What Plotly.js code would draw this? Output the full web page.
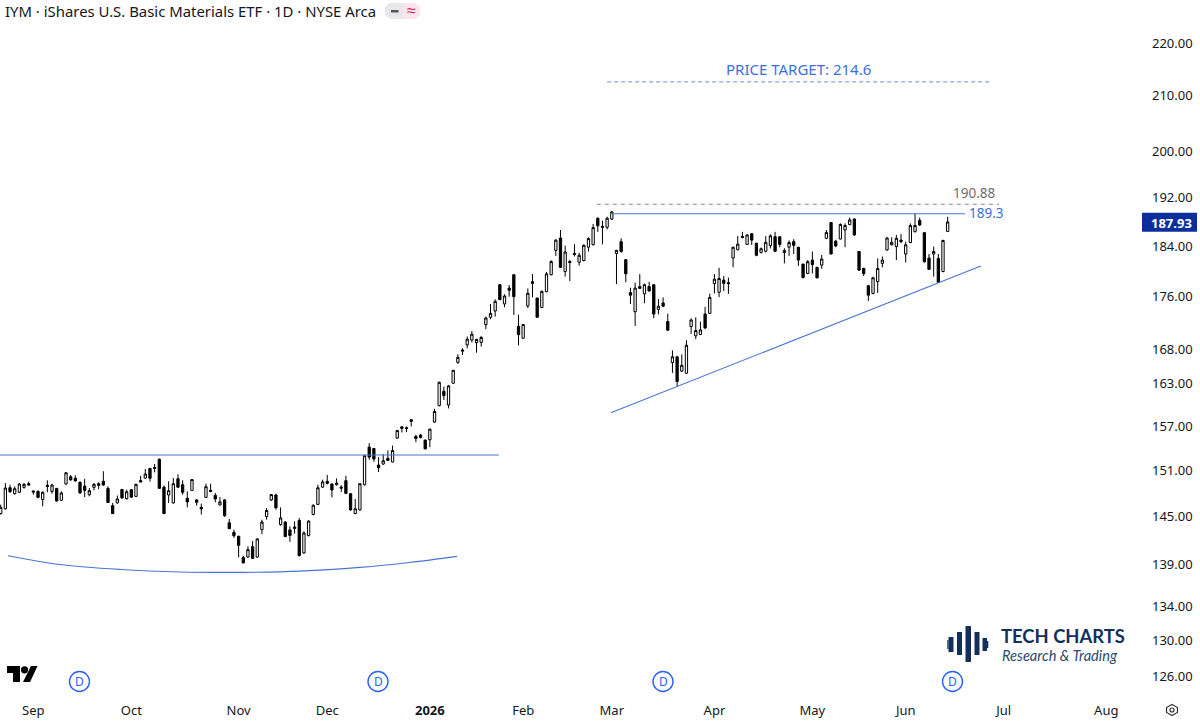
<!DOCTYPE html>
<html>
<head>
<meta charset="utf-8">
<script src="https://cdn.plot.ly/plotly-3.0.1.min.js"></script>
<style>html,body{margin:0;padding:0;background:#fff}#chart{width:1200px;height:723px}</style>
</head>
<body>
<div id="chart"></div>
<script>
const open = [
145.38,145.98,148.73,147.95,148.13,148.77,149.26,148.3,148.25,147.18,
149.03,148.25,148.64,147.09,149.22,150.17,149.97,149.44,148.94,147.82,
148.77,149.03,149.57,148.64,146.4,146.75,148.5,147.3,148.47,147.6,
149.66,150.0,151.28,151.42,152.5,148.8,147.78,146.75,149.9,149.12,
147.35,148.38,147.14,146.18,147.47,148.38,147.73,146.5,147.14,144.2,
143.0,142.5,139.88,139.92,141.2,139.92,143.34,145.0,147.13,147.78,
143.97,144.3,143.3,143.67,144.5,140.42,142.58,145.26,146.56,148.8,
149.56,149.2,149.12,148.81,149.65,147.95,145.38,145.85,149.12,154.14,
153.96,151.73,151.86,152.62,152.13,155.37,156.92,156.8,157.9,155.6,
155.78,155.1,155.14,157.57,159.87,161.91,159.96,163.05,166.09,167.9,
168.65,169.37,168.98,169.03,171.69,172.8,173.76,177.83,174.85,177.3,
179.4,171.44,169.65,174.54,178.3,175.76,174.3,176.75,179.4,183.3,
185.3,179.9,181.5,182.8,181.38,181.65,183.8,184.2,188.55,187.2,
187.05,188.4,182.8,184.7,181.8,176.6,173.65,177.25,176.4,177.55,
177.83,174.0,175.0,172.15,166.05,166.9,164.8,164.5,171.4,170.0,
170.2,173.3,173.4,178.0,176.65,178.55,178.15,182.05,183.4,185.55,
184.25,186.0,184.45,182.95,183.15,184.05,185.5,185.5,182.95,183.8,
184.7,183.8,181.1,179.6,181.73,180.56,180.93,185.25,187.83,184.78,
185.13,186.6,187.5,188.43,183.1,180.4,177.67,176.47,178.3,181.2,
183.35,184.2,183.9,184.95,182.7,184.55,186.33,188.2,186.17,182.05,
182.7,182.0,179.9,186.37];
const high = [
146.53,149.35,149.12,148.9,149.35,149.35,149.53,148.38,148.38,148.25,
149.7,149.26,148.69,148.25,150.8,150.4,150.35,149.57,149.9,148.69,
149.35,149.44,150.9,148.9,146.75,147.7,148.55,148.47,148.55,149.26,
150.3,151.2,151.33,151.86,152.6,149.0,149.57,150.0,150.5,149.7,
148.25,149.8,147.26,146.66,149.26,149.26,148.04,147.5,147.26,144.7,
143.34,142.58,140.08,141.25,141.9,142.2,144.6,146.1,147.7,147.95,
146.17,144.39,143.76,144.39,144.8,143.13,144.5,146.55,149.12,149.78,
150.4,149.34,149.96,149.07,150.3,147.95,147.27,149.34,153.1,154.68,
154.0,152.8,153.2,153.68,154.36,156.5,156.97,156.97,158.0,155.82,
155.95,155.14,156.65,159.43,163.29,162.58,162.81,164.93,167.26,168.15,
169.9,170.73,169.56,170.0,172.9,174.85,175.55,177.83,176.33,177.78,
179.4,173.2,171.8,177.25,179.5,175.76,176.9,179.85,181.7,185.1,
186.6,184.05,181.77,184.3,182.9,184.26,185.4,187.6,188.7,188.15,
188.8,189.75,183.35,185.25,181.85,177.35,178.15,179.5,178.0,178.3,
177.83,175.6,175.85,173.35,167.85,166.95,167.25,169.35,172.65,172.8,
172.15,174.4,176.45,179.5,180.5,179.2,178.95,183.85,185.65,186.3,
185.9,186.05,184.5,183.75,185.6,185.9,186.3,185.5,183.63,184.9,
185.1,183.8,181.1,181.73,183.1,180.67,182.55,186.6,187.83,185.0,
187.7,187.7,188.65,188.5,183.1,180.5,177.8,179.08,182.0,182.3,
185.4,185.4,185.8,185.95,184.7,187.7,189.36,188.65,186.2,182.7,
183.9,182.7,185.0,188.8];
const low = [
145.25,145.9,148.04,147.82,148.04,148.6,149.0,147.82,147.35,146.3,
148.13,147.95,146.96,147.0,149.12,149.67,149.53,147.95,147.5,147.6,
148.38,148.55,149.0,146.75,145.34,146.66,147.26,147.18,147.43,147.5,
149.44,149.9,149.53,150.75,148.55,145.34,146.75,146.66,148.69,147.82,
146.18,148.38,146.4,145.25,147.4,148.13,146.84,146.4,144.95,143.42,
142.3,139.88,139.16,139.84,139.72,139.84,142.75,144.6,147.0,145.88,
143.85,142.39,141.8,142.84,140.0,140.33,142.5,145.17,146.47,148.72,
149.17,147.48,149.0,148.17,147.87,145.75,145.3,145.75,149.03,152.44,
152.17,150.8,151.77,152.26,152.08,155.28,156.14,156.18,156.97,154.8,
155.32,153.86,154.14,157.48,159.77,160.67,159.48,163.05,165.85,167.16,
168.14,169.03,167.5,168.4,171.0,172.5,172.9,175.45,174.34,175.97,
173.15,168.6,169.6,174.2,175.87,172.75,174.2,176.64,179.3,182.4,
180.5,179.1,178.4,182.3,180.84,181.54,183.1,184.1,186.3,184.26,
186.7,188.25,177.93,182.9,178.2,174.85,171.5,177.15,174.95,176.75,
172.65,173.25,174.35,170.8,164.55,162.6,164.7,164.4,170.3,169.5,
170.1,171.0,173.3,176.45,175.9,176.85,176.4,180.57,183.3,185.25,
184.15,184.15,182.35,182.8,182.95,183.6,183.05,183.8,181.2,182.4,
182.7,180.8,178.8,179.5,179.6,178.8,180.35,185.1,182.65,183.8,
185.05,183.8,187.4,185.65,180.0,179.2,175.3,176.35,176.55,180.56,
183.25,184.07,181.73,184.45,181.35,184.45,186.2,187.3,181.3,180.15,
179.1,178.15,179.8,186.33];
const close = [
146.18,148.69,148.21,148.6,149.22,149.17,149.08,148.17,147.47,148.13,
148.9,149.08,147.0,148.04,150.7,149.75,149.62,148.04,148.38,148.34,
149.17,149.26,149.08,146.8,145.38,147.26,147.4,148.2,147.5,149.17,
149.48,150.53,149.97,151.28,148.64,145.38,148.34,149.26,148.8,148.13,
146.88,149.8,146.84,145.98,148.86,148.25,147.26,146.88,145.12,143.46,
142.58,141.38,139.2,140.84,139.76,142.18,144.3,145.77,147.83,146.13,
144.82,142.47,142.6,143.5,140.1,142.92,144.43,146.45,148.72,149.5,
149.3,148.43,149.34,148.68,148.0,145.85,146.0,149.25,152.97,152.8,
152.53,151.37,152.3,152.35,153.68,156.4,156.7,156.7,157.67,155.32,
155.46,153.9,156.6,159.05,163.19,161.29,162.67,164.93,166.82,167.75,
169.5,170.25,169.47,169.76,172.7,173.4,175.25,175.5,176.07,176.95,
175.97,170.18,171.7,176.5,178.04,172.8,176.8,179.54,181.5,184.95,
180.57,183.03,181.33,182.63,182.5,184.1,185.2,187.0,187.3,187.05,
188.55,189.6,183.3,183.1,179.55,176.2,177.3,177.55,177.83,176.85,
173.3,174.5,174.5,170.85,166.9,163.3,165.65,168.6,172.4,170.8,
170.9,171.2,175.85,178.7,178.8,178.04,178.0,183.8,184.3,185.4,
185.8,184.95,182.5,183.55,184.6,185.65,183.15,184.25,183.26,184.55,
184.1,181.73,178.97,181.47,181.0,178.92,181.9,186.18,182.7,184.0,
187.52,187.35,188.27,185.8,180.13,179.57,176.2,178.92,180.4,181.73,
185.3,184.6,185.25,184.7,184.2,187.35,187.35,187.43,181.47,180.25,
183.1,178.2,184.9,187.93];
const barIndex = open.map((_, i) => i);

const priceTicks = [220, 210, 200, 192, 184, 176, 168, 163, 157, 151, 145, 139, 134, 130, 126];
const priceTickText = priceTicks.map(v => v.toFixed(2));
const monthLabels = ['Sep', 'Oct', 'Nov', 'Dec', '<b>2026</b>', 'Feb', 'Mar', 'Apr', 'May', 'Jun', 'Jul', 'Aug'];
const monthBars = [7, 28, 51, 70, 92, 112, 131, 153, 174, 194, 215, 237];

const necklineX = [-1, 106.8], necklineY = [153.07, 153.07];
const baseX = [1.56, 12.7, 25.6, 38.4, 51.3, 64.2, 77, 87.7, 97.8];
const baseY = [140.08, 139.0, 138.4, 138.1, 138.05, 138.2, 138.65, 139.25, 140.0];
const trendX = [130.8, 210.1], trendY = [158.88, 180.77];
const resistX = [130.6, 206.7], resistY = [189.3, 189.3];
const highX = [127.8, 214], highY = [190.88, 190.88];
const targetX = [130, 212.3], targetY = [212.6, 212.6];

const BLUE = '#4a74d2', INK = '#131722', NAVY = '#12305a';
const FONT = '"Noto Sans", sans-serif';
const PW = 1145, PH = 695;
const px = x => x / PW, py = y => 1 - y / PH;

function line(x, y, color, dash, shape, width) {
  return {type: 'scatter', mode: 'lines', x, y, hoverinfo: 'skip', showlegend: false,
    line: {color, width: width || 1.1, dash: dash || 'solid', shape: shape || 'linear', smoothing: 1}};
}
function rectShape(x0, y0, x1, y1, fill) {
  return {type: 'rect', xref: 'paper', yref: 'paper', x0: px(x0), x1: px(x1), y0: py(y0), y1: py(y1),
    fillcolor: fill, line: {width: 0}};
}
function pathShape(pts, fill, stroke) {
  const d = pts.map((p, i) => (i ? 'L' : 'M') + px(p[0]) + ',' + py(p[1])).join(' ') + ' Z';
  return {type: 'path', xref: 'paper', yref: 'paper', path: d, fillcolor: fill || 'rgba(0,0,0,0)',
    line: stroke ? {color: stroke, width: 1.2} : {width: 0}};
}
function circleShape(cx, cy, r, fill, stroke, w) {
  return {type: 'circle', xref: 'paper', yref: 'paper', x0: px(cx - r), x1: px(cx + r), y0: py(cy + r), y1: py(cy - r),
    fillcolor: fill, line: stroke ? {color: stroke, width: w} : {width: 0}};
}
function note(text, x, y, size, color, anchor, family, extra) {
  return Object.assign({text, xref: 'paper', yref: 'paper', x: px(x), y: py(y), showarrow: false,
    xanchor: anchor || 'center', yanchor: 'middle', font: {family: family || FONT, size, color}}, extra || {});
}

const traces = [
  line(necklineX, necklineY, BLUE),
  line(baseX, baseY, BLUE, 'solid', 'spline'),
  line(trendX, trendY, BLUE),
  line(resistX, resistY, BLUE),
  line(highX, highY, '#8a8a8a', '4px,4px'),
  line(targetX, targetY, '#5f86dc', '4px,3px', 'linear', 0.9),
  {type: 'candlestick', x: barIndex, open, high, low, close, showlegend: false, hoverinfo: 'skip',
    whiskerwidth: 0,
    increasing: {line: {color: '#000', width: 1}, fillcolor: '#fff'},
    decreasing: {line: {color: '#000', width: 1}, fillcolor: '#000'}}
];

const shapes = [
  rectShape(1142, 212.7, 1197, 231.7, '#0b2e9c'),
  circleShape(79.5, 681.5, 10, '#fff', '#2962ff', 1.4),
  circleShape(378, 681.5, 10, '#fff', '#2962ff', 1.4),
  circleShape(663, 681.5, 10, '#fff', '#2962ff', 1.4),
  circleShape(952.5, 681.5, 10, '#fff', '#2962ff', 1.4),
  pathShape([[7,666],[20,666],[20,682],[13,682],[13,673],[7,673]], '#000'),
  circleShape(24.5, 669.8, 3.6, '#000'),
  pathShape([[31,666],[37.5,666],[30,682],[23,682]], '#000'),
  pathShape([[1172,704.5],[1177.5,707.5],[1177.5,712.5],[1172,715.5],[1166.5,712.5],[1166.5,707.5]], '#fff', '#333'),
  circleShape(1172, 710, 2, '#fff', '#333', 1.2),
  pathShape([[390,3],[403,3],[403,19],[390,19],[385,15],[385,7]], '#e8e8ea'),
  pathShape([[403,3],[415,3],[420,7],[420,15],[415,19],[403,19]], '#fbe4ec'),
  rectShape(391, 10, 398.5, 12.5, '#555'),
  rectShape(948.5, 637, 953.5, 652, NAVY), rectShape(947.3, 640, 948.5, 649, NAVY),
  rectShape(957, 632, 962, 655, NAVY),
  rectShape(965.5, 626, 971, 662, NAVY),
  rectShape(974.5, 632, 979.5, 655, NAVY),
  rectShape(982.5, 638, 987, 651, NAVY), rectShape(987, 641, 988.3, 648, NAVY)
];

const annotations = [
  note('PRICE TARGET: 214.6', 798.5, 69, 15, '#3b6fe0'),
  note('190.88', 974, 193.5, 13.5, '#6f6f6f'),
  note('189.3', 986, 213, 13.5, '#3b6fe0'),
  note('<b>187.93</b>', 1171.5, 222.5, 13, '#fff'),
  note('D', 79.5, 681.5, 12, '#2962ff'),
  note('D', 378, 681.5, 12, '#2962ff'),
  note('D', 663, 681.5, 12, '#2962ff'),
  note('D', 952.5, 681.5, 12, '#2962ff'),
  note('≈', 411.5, 10.5, 16, '#d81b60'),
  note('<b>TECH CHARTS</b>', 999, 635.5, 18.4, NAVY, 'left', 'Lato, sans-serif'),
  note('<i>Research &amp; Trading</i>', 1000, 655.5, 14.6, '#2b4a73', 'left', 'Lato, sans-serif')
];

const layout = {
  width: 1200, height: 723,
  margin: {l: 0, r: 55, t: 0, b: 28, pad: 0},
  paper_bgcolor: '#fff', plot_bgcolor: '#fff',
  showlegend: false, dragmode: false,
  title: {text: 'IYM · iShares U.S. Basic Materials ETF · 1D · NYSE Arca',
    x: 5 / 1200, xref: 'container', xanchor: 'left',
    y: 1 - 12 / 723, yref: 'container', yanchor: 'middle',
    font: {family: FONT, size: 14.9, color: INK}},
  xaxis: {type: 'linear', range: [-0.15, 245.3], rangeslider: {visible: false},
    tickmode: 'array', tickvals: monthBars, ticktext: monthLabels, ticks: '',
    ticklabelstandoff: 6,
    showgrid: false, zeroline: false, showline: false, fixedrange: true,
    tickfont: {family: FONT, size: 13, color: INK}},
  yaxis: {type: 'log', side: 'right', range: [2.09314, 2.35886],
    tickmode: 'array', tickvals: priceTicks, ticktext: priceTickText, ticks: '',
    ticklabelstandoff: 6,
    showgrid: false, zeroline: false, showline: false, fixedrange: true,
    tickfont: {family: FONT, size: 13, color: INK}},
  shapes, annotations
};

Plotly.newPlot('chart', traces, layout, {displayModeBar: false, staticPlot: true});
</script>
</body>
</html>
